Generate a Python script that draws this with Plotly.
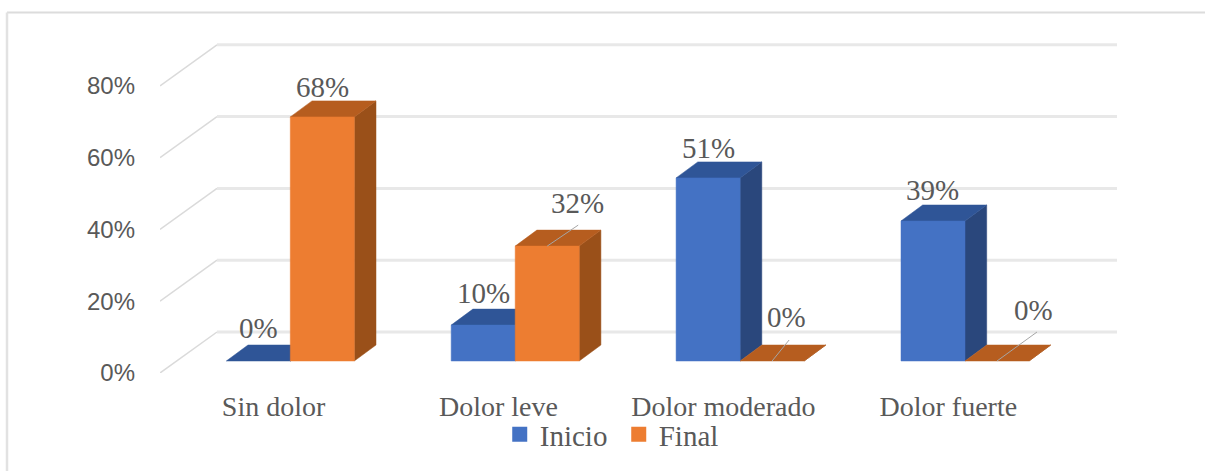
import plotly.graph_objects as go

categories = ["Sin dolor", "Dolor leve", "Dolor moderado", "Dolor fuerte"]
inicio = [0, 10, 51, 39]
final = [68, 32, 0, 0]
y_ticks = [0, 20, 40, 60, 80]
y_tick_labels = ["0%", "20%", "40%", "60%", "80%"]

# --- layout scale (pixels per axis unit), used only to express the fake 3-D depth
PX_X = 224.9
PX_Y = 3.59
W, H = 1205, 471
L, R, T, B = 160, 1117, 30, 373
x0 = -(273.6 - L) / PX_X
x1 = (R - 273.6) / PX_X
y1 = (B - T) / PX_Y
BAR_W = 64 / PX_X
SHIFT_X, SHIFT_Y = 16.7 / PX_X, 12 / PX_Y      # bar front plane vs. axis front plane
DEPTH_X, DEPTH_Y = 21.7 / PX_X, 16 / PX_Y      # bar depth
WALL_X, WALL_Y = 57 / PX_X, 41 / PX_Y          # floor depth

# label offsets in pixels from the top-centre of each bar's front face
label_off_inicio = [(0, -33), (0, -32), (0, -30), (-1, -31)]
label_off_final = [(0, -30), (30, -43), (14, -44), (36, -51)]
leader_final = [None, (31, -21), (17, -21), (40, -29)]

BLUE = ("#4472C4", "#2F5597", "#2A477C")
ORANGE = ("#ED7D31", "#B65D1F", "#9A5019")
GRID = "#E8E8E8"
DIAG = "#DADADA"
TEXT = "#595959"
SERIF = "Liberation Serif"
SANS = "Liberation Sans"

fig = go.Figure()


def poly(xs, ys, color):
    fig.add_trace(go.Scatter(x=xs + xs[:1], y=ys + ys[:1], mode="lines", fill="toself",
                             fillcolor=color, line=dict(color=color, width=0.5),
                             showlegend=False, hoverinfo="skip"))


# back wall grid and left-wall diagonals
for t in y_ticks:
    fig.add_trace(go.Scatter(x=[x0, x0 + WALL_X], y=[t, t + WALL_Y], mode="lines",
                             line=dict(color=DIAG, width=1.5), showlegend=False, hoverinfo="skip"))
    fig.add_trace(go.Scatter(x=[x0 + WALL_X, x1], y=[t + WALL_Y, t + WALL_Y], mode="lines",
                             line=dict(color=GRID, width=3), showlegend=False, hoverinfo="skip"))


def bar3d(xl, val, colors):
    front, top, side = colors
    xr = xl + BAR_W
    y0b = SHIFT_Y
    yt = val + SHIFT_Y
    poly([xr, xr + DEPTH_X, xr + DEPTH_X, xr], [y0b, y0b + DEPTH_Y, yt + DEPTH_Y, yt], side)
    poly([xl, xr, xr + DEPTH_X, xl + DEPTH_X], [yt, yt, yt + DEPTH_Y, yt + DEPTH_Y], top)
    if val > 0:
        poly([xl, xr, xr, xl], [y0b, y0b, yt, yt], front)


for i in range(len(categories)):
    cx = i + SHIFT_X
    bar3d(cx - BAR_W, inicio[i], BLUE)
    bar3d(cx, final[i], ORANGE)

# leader lines and labels
annotations = []
for i in range(len(categories)):
    cx = i + SHIFT_X
    for val, xc, off, lead in [(inicio[i], cx - BAR_W / 2, label_off_inicio[i], None),
                               (final[i], cx + BAR_W / 2, label_off_final[i], leader_final[i])]:
        y_top = val + SHIFT_Y
        if lead:
            fig.add_trace(go.Scatter(x=[xc, xc + lead[0] / PX_X], y=[y_top, y_top - lead[1] / PX_Y],
                                     mode="lines", line=dict(color="#A6A6A6", width=1),
                                     showlegend=False, hoverinfo="skip"))
        annotations.append(dict(x=xc, y=y_top, xref="x", yref="y", text=f"{val}%", showarrow=False,
                                xshift=off[0], yshift=-off[1], xanchor="center", yanchor="middle",
                                font=dict(family=SERIF, size=29, color=TEXT)))

# legend entries
fig.add_trace(go.Scatter(x=[None], y=[None], mode="markers", name="Inicio",
                         marker=dict(symbol="square", size=15, color=BLUE[0])))
fig.add_trace(go.Scatter(x=[None], y=[None], mode="markers", name="Final",
                         marker=dict(symbol="square", size=15, color=ORANGE[0])))

fig.update_layout(
    width=W, height=H,
    margin=dict(l=L, r=W - R, t=T, b=H - B, pad=0, autoexpand=False),
    paper_bgcolor="white", plot_bgcolor="rgba(0,0,0,0)",
    annotations=annotations,
    showlegend=True,
    legend=dict(orientation="h", x=0.355, xanchor="left", y=(B - 409) / (B - T), yanchor="top",
                xref="paper", yref="paper", entrywidth=74, entrywidthmode="pixels",
                font=dict(family=SERIF, size=29, color=TEXT), bgcolor="rgba(0,0,0,0)",
                itemclick=False, itemdoubleclick=False),
    shapes=[
        dict(type="line", xref="paper", yref="paper", x0=(7 - L) / (R - L), x1=(W - L) / (R - L),
             y0=(B - 12.5) / (B - T), y1=(B - 12.5) / (B - T), line=dict(color="#DCDCDC", width=2)),
        dict(type="line", xref="paper", yref="paper", x0=(7 - L) / (R - L), x1=(7 - L) / (R - L),
             y0=(B - 12.5) / (B - T), y1=(B - H) / (B - T), line=dict(color="#E2E2E2", width=2.5)),
    ],
    xaxis=dict(range=[x0, x1], tickmode="array", tickvals=list(range(len(categories))),
               ticktext=categories, showgrid=False, zeroline=False, showline=False, ticks="",
               ticklabelstandoff=14, tickfont=dict(family=SERIF, size=28, color=TEXT)),
    yaxis=dict(range=[0, y1], tickmode="array", tickvals=y_ticks, ticktext=y_tick_labels,
               showgrid=False, zeroline=False, showline=False, ticks="",
               ticklabelstandoff=24, tickfont=dict(family=SANS, size=24, color=TEXT)),
)

fig.write_html("out.html", config={"displayModeBar": False},
               post_script="document.body.style.margin='0';document.body.style.overflow='hidden';")
